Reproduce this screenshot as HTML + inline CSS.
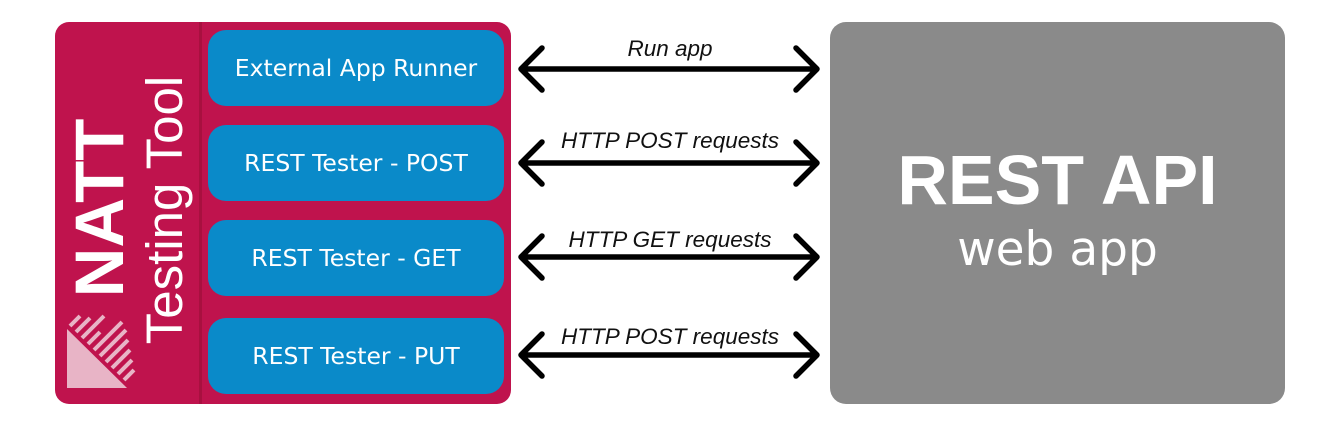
<!DOCTYPE html>
<html><head><style>
body{margin:0;width:1344px;height:446px;background:#fff;position:relative;overflow:hidden;font-family:"Liberation Sans",sans-serif}
.box{position:absolute;border-radius:14px}
.blue{position:absolute;left:208px;width:296px;height:76px;background:#0a8ac9;border-radius:18px;color:#fff;font-family:"DejaVu Sans",sans-serif;font-size:23.5px;display:flex;align-items:center;justify-content:center}
.lbl{position:absolute;font-style:italic;font-size:22.5px;color:#111;text-align:center;width:300px;left:520px}
</style></head><body>
<div class="box" style="left:55px;top:22px;width:456px;height:382px;background:#bf134d"></div>
<div style="position:absolute;left:199px;top:22px;width:3px;height:382px;background:#a8103f"></div>
<div class="blue" style="top:30px">External App Runner</div>
<div class="blue" style="top:125px">REST Tester - POST</div>
<div class="blue" style="top:220px">REST Tester - GET</div>
<div class="blue" style="top:318px">REST Tester - PUT</div>
<div class="box" style="left:830px;top:22px;width:455px;height:382px;background:#8a8a8a;border-radius:16px"></div>
<div style="position:absolute;left:830px;width:455px;top:140px;text-align:center;color:#fff;font-weight:bold;font-size:70px;line-height:80px">REST API</div>
<div style="position:absolute;left:830px;width:455px;top:220px;text-align:center;color:#fff;font-family:'DejaVu Sans',sans-serif;font-size:47px;line-height:60px">web app</div>
<svg width="1344" height="446" style="position:absolute;left:0;top:0">
<g transform="translate(98,208) rotate(-90)"><text x="0" y="25" text-anchor="middle" font-family="Liberation Sans" font-weight="bold" font-size="69" fill="#fff">NATT</text></g>
<g transform="translate(165,210) rotate(-90)"><text x="0" y="17" text-anchor="middle" font-family="Liberation Sans" font-size="51" fill="#fff">Testing Tool</text></g>
<polygon points="67,329 67,388 127,388" fill="#e8b4c6"/>
<g stroke="#e8b4c6" stroke-width="4">
<line x1="70" y1="326" x2="80" y2="316"/>
<line x1="76" y1="332" x2="90" y2="318"/>
<line x1="82" y1="338" x2="104" y2="316"/>
<line x1="88" y1="344" x2="100" y2="332"/>
<line x1="94" y1="350" x2="122" y2="322"/>
<line x1="100" y1="356" x2="126" y2="330"/>
<line x1="106" y1="362" x2="128" y2="340"/>
<line x1="112" y1="368" x2="130" y2="350"/>
<line x1="118" y1="374" x2="132" y2="360"/>
<line x1="124" y1="380" x2="134" y2="370"/>
</g>
<g stroke="#000" stroke-width="5.5" stroke-linecap="round" stroke-linejoin="round" fill="none">
<path d="M521 69H817M542 48L521 69L542 90M796 48L817 69L796 90"/>
<path d="M521 163H817M542 142L521 163L542 184M796 142L817 163L796 184"/>
<path d="M521 257H817M542 236L521 257L542 278M796 236L817 257L796 278"/>
<path d="M521 355H817M542 334L521 355L542 376M796 334L817 355L796 376"/>
</g>
</svg>
<div class="lbl" style="top:36px">Run app</div>
<div class="lbl" style="top:128px">HTTP POST requests</div>
<div class="lbl" style="top:227px">HTTP GET requests</div>
<div class="lbl" style="top:324px">HTTP POST requests</div>
</body></html>
